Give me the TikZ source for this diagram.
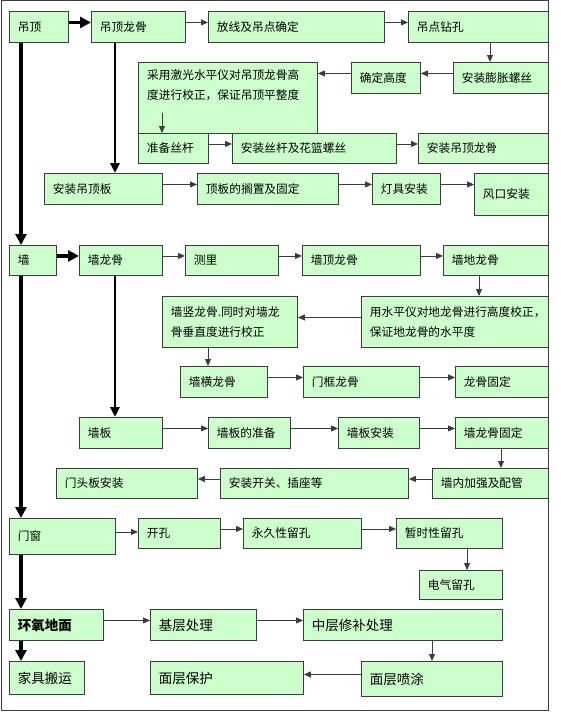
\documentclass[tikz,border=0pt]{standalone}
\usepackage{fontspec}
\setmainfont{Noto Sans CJK SC}
\usetikzlibrary{arrows.meta,calc}
\definecolor{boxgreen}{RGB}{204,255,204}
\definecolor{edge}{RGB}{60,60,60}
\tikzset{
  bx/.style={draw=edge, fill=boxgreen, line width=0.9pt, anchor=north west,
    inner xsep=8pt, inner ysep=0pt, align=left, font=\fontsize{11.7}{20}\selectfont},
  bigfont/.style={font=\fontsize{13.5}{20}\selectfont},
  thinarr/.style={draw=edge, line width=0.9pt, -{Triangle[length=7pt,width=6pt]}},
  midarr/.style={draw=black, line width=2.6pt, -{Triangle[length=10pt,width=9pt]}},
  thickarr/.style={draw=black, line width=3.6pt, -{Triangle[length=11pt,width=11pt]}},
  txt/.style={anchor=north west, inner sep=0pt, align=left, font=\fontsize{11.7}{20}\selectfont},
}
\newcommand\bx[7][]{%
  \pgfmathsetmacro\bw{#5-#3}\pgfmathsetmacro\bh{#6-#4}\pgfmathsetmacro\tw{#5-#3-17}%
  \node[bx,#1,minimum width=\bw pt,minimum height=\bh pt,text width=\tw pt] (#2) at (#3,#4) {#7};}
% horizontal arrows (right / left), shifted 4.5 above source centre
\newcommand\rarr[3][thinarr]{\draw[#1] ([yshift=4.5pt]#2.east) -- ([yshift=4.5pt]#2.east -| #3.west);}
\newcommand\larr[3][thinarr]{\draw[#1] ([yshift=4.5pt]#2.west) -- ([yshift=4.5pt]#2.west -| #3.east);}
% vertical arrows with offset from the source's left edge
\newcommand\darr[4][thinarr]{\draw[#1] ([xshift=#4pt]#2.south west) -- ([xshift=#4pt]#2.south west |- #3.north);}
\begin{document}
\begin{tikzpicture}[x=1pt,y=-1pt]
\useasboundingbox (0,0) rectangle (560,712);
\fill[white] (0,0) rectangle (560,712);
\draw[edge, line width=1pt] (1.5,0.5) rectangle (548.5,710.5);

% ---- ceiling
\bx{dd}{9}{11}{68}{42}{吊顶}
\bx{ddlg}{91}{11}{185}{42}{吊顶龙骨}
\bx{fx}{208}{11}{384}{42}{放线及吊点确定}
\bx{zk}{408}{11}{548}{42}{吊点钻孔}
\bx{pz}{453}{62}{548}{93}{安装膨胀螺丝}
\bx{qd}{351}{62}{420}{93}{确定高度}
\bx{big}{138}{62}{317}{133}{}
\node[txt] (bigt) at (147,69) {采用激光水平仪对吊顶龙骨高\\度进行校正，保证吊顶平整度};
\coordinate (bigarr) at (162,113);
\bx{zb}{138}{133}{208}{163}{准备丝杆}
\bx{sg}{232}{133}{396}{163}{安装丝杆及花篮螺丝}
\bx{azlg}{418}{133}{548}{163}{安装吊顶龙骨}
\bx{dbd}{44}{173}{162}{204}{安装吊顶板}
\bx{gz}{197}{173}{338}{204}{顶板的搁置及固定}
\bx{dj}{372}{173}{440}{204}{灯具安装}
\bx{fk}{474}{173}{548}{215}{风口安装}

\rarr[thickarr]{dd}{ddlg}
\rarr{ddlg}{fx}
\rarr{fx}{zk}
\darr{zk}{pz}{82}
\larr{pz}{qd}
\larr{qd}{big}
\draw[thinarr] (bigarr) -- (bigarr |- zb.north);
\rarr{zb}{sg}
\rarr{sg}{azlg}
\darr[midarr]{ddlg}{dbd}{24}
\rarr{dbd}{gz}
\rarr{gz}{dj}
\rarr{dj}{fk}

% ---- wall
\bx{q}{9}{245}{56}{275}{墙}
\bx{qlg}{79}{245}{162}{275}{墙龙骨}
\bx{cl}{185}{245}{278}{275}{测里}
\bx{qdlg}{302}{245}{420}{275}{墙顶龙骨}
\bx{dlg}{443}{245}{548}{275}{墙地龙骨}
\bx{sp}{361}{296}{548}{347}{用水平仪对地龙骨进行高度校正，\\保证地龙骨的水平度}
\bx{sl}{162}{296}{297}{347}{墙竖龙骨.同时对墙龙\\骨垂直度进行校正}
\bx{hl}{180}{366}{267}{397}{墙横龙骨}
\bx{mk}{303}{366}{419}{397}{门框龙骨}
\bx{gd}{455}{366}{548}{397}{龙骨固定}
\bx{qb}{79}{417}{162}{448}{墙板}
\bx{zbq}{208}{417}{290}{448}{墙板的准备}
\bx{qbaz}{338}{417}{419}{448}{墙板安装}
\bx{qgd}{455}{417}{548}{448}{墙龙骨固定}
\bx{jq}{432}{468}{548}{498}{墙内加强及配管}
\bx{kg}{220}{468}{408}{498}{安装开关、插座等}
\bx{mt}{56}{468}{197}{498}{门头板安装}

\darr[thickarr]{dd}{q}{12}
\rarr[thickarr]{q}{qlg}
\rarr{qlg}{cl}
\rarr{cl}{qdlg}
\rarr{qdlg}{dlg}
\darr{dlg}{sp}{36}
\larr{sp}{sl}
\darr{sl}{hl}{46}
\rarr{hl}{mk}
\rarr{mk}{gd}
\darr[midarr]{qlg}{qb}{36}
\rarr{qb}{zbq}
\rarr{zbq}{qbaz}
\rarr{qbaz}{qgd}
\darr{qgd}{jq}{46}
\larr{jq}{kg}
\larr{kg}{mt}

% ---- doors / windows
\bx{mc}{9}{518}{115}{554}{门窗}
\bx{kk}{138}{518}{220}{548}{开孔}
\bx{yj}{243}{518}{361}{548}{永久性留孔}
\bx{zs}{396}{518}{502}{548}{暂时性留孔}
\bx{dq}{419}{570}{502}{599}{电气留孔}
\darr[thickarr]{q}{mc}{12}
\rarr{mc}{kk}
\rarr{kk}{yj}
\rarr{yj}{zs}
\darr{zs}{dq}{71}

% ---- floor
\bx[bigfont]{hy}{9}{609}{103}{640}{\textbf{环氧地面}}
\bx[bigfont]{jc}{150}{609}{256}{640}{基层处理}
\bx[bigfont]{zc}{303}{609}{502}{640}{中层修补处理}
\bx[bigfont]{pt}{361}{661}{502}{696}{面层喷涂}
\bx[bigfont]{bh}{150}{661}{303}{694}{面层保护}
\bx[bigfont]{jj}{9}{661}{84}{694}{家具搬运}
\darr[thickarr]{mc}{hy}{12}
\rarr{hy}{jc}
\rarr{jc}{zc}
\darr{zc}{pt}{129}
\larr{pt}{bh}
\darr[thickarr]{hy}{jj}{12}
\end{tikzpicture}
\end{document}
